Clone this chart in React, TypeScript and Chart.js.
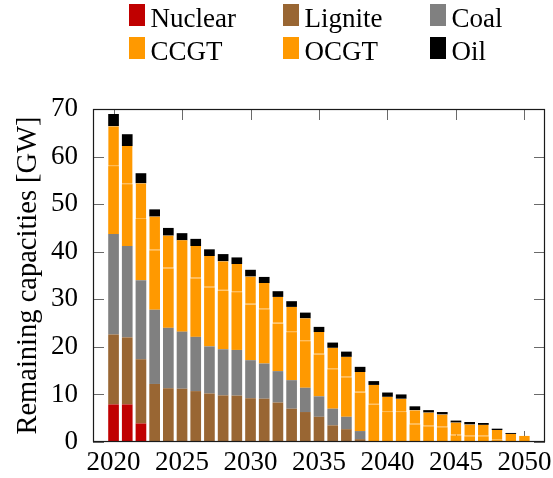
import { useEffect, useRef } from "react";
import { Chart, registerables } from "chart.js";

Chart.register(...registerables);

// ---- data (GW) ----
const years = [
  2020, 2021, 2022, 2023, 2024, 2025, 2026, 2027, 2028, 2029, 2030,
  2031, 2032, 2033, 2034, 2035, 2036, 2037, 2038, 2039, 2040,
  2041, 2042, 2043, 2044, 2045, 2046, 2047, 2048, 2049, 2050,
];
const nuclear = [7.9, 7.9, 3.9, 0, 0, 0, 0, 0, 0, 0, 0, 0, 0, 0, 0, 0, 0, 0, 0, 0, 0, 0, 0, 0, 0, 0, 0, 0, 0, 0, 0];
const lignite = [14.7, 14.1, 13.5, 12.2, 11.3, 11.2, 10.7, 10.2, 9.8, 9.75, 9.2, 9.1, 8.3, 7.0, 6.3, 5.3, 3.5, 2.7, 0.6, 0, 0, 0, 0, 0, 0, 0, 0, 0, 0, 0, 0];
const coal = [21.1, 19.2, 16.6, 15.6, 12.7, 12.0, 11.4, 9.9, 9.7, 9.6, 8.0, 7.4, 6.6, 6.0, 5.1, 4.3, 3.5, 2.6, 1.7, 0, 0, 0, 0, 0, 0, 0, 0, 0, 0, 0, 0];
const ccgt = [14.3, 13.0, 12.9, 12.5, 12.5, 19.2, 12.3, 12.4, 12.3, 12.15, 11.7, 11.4, 10.0, 10.1, 9.8, 8.8, 8.3, 8.3, 8.1, 7.85, 6.3, 6.3, 3.7, 3.3, 3.1, 1.4, 1.2, 1.2, 0.4, 0, 0];
const ocgt = [8.4, 8.0, 7.5, 7.1, 6.9, 0, 6.8, 6.6, 6.2, 5.9, 5.9, 5.5, 5.6, 5.3, 4.8, 4.7, 4.5, 4.3, 4.3, 4.15, 3.2, 2.8, 3.0, 2.9, 2.7, 2.7, 2.5, 2.4, 2.1, 1.7, 1.3];
const oil = [2.55, 2.5, 2.1, 1.5, 1.6, 1.5, 1.5, 1.4, 1.5, 1.4, 1.4, 1.3, 1.2, 1.2, 1.2, 1.1, 1.1, 1.1, 1.1, 0.8, 0.9, 0.9, 0.8, 0.5, 0.5, 0.4, 0.5, 0.4, 0.3, 0.2, 0];

const seriesNames = ["Nuclear", "Lignite", "Coal", "CCGT", "OCGT", "Oil"];
const seriesValues = [nuclear, lignite, coal, ccgt, ocgt, oil];
const seriesColors = ["#C00000", "#996633", "#808080", "#FF9900", "#FF9900", "#000000"];

const xTickValues = [2020, 2025, 2030, 2035, 2040, 2045, 2050];
const yTickValues = [0, 10, 20, 30, 40, 50, 60, 70];
const yAxisTitle = "Remaining capacities [GW]";

const FONT = "'Liberation Serif', 'Times New Roman', serif";
const FONT_SIZE = 27;

// tick marks drawn beneath the bars (as in the reference)
const ticksPlugin = {
  id: "innerTicks",
  beforeDatasetsDraw(chart: any) {
    const { ctx, chartArea } = chart;
    const { left, right, top, bottom } = chartArea;
    const x = chart.scales.x;
    const y = chart.scales.y;
    const TL = 11;
    ctx.save();
    ctx.strokeStyle = "#6a6a6a";
    ctx.lineWidth = 1;
    ctx.beginPath();
    for (const v of xTickValues) {
      const px = Math.round(x.getPixelForValue(v)) + 0.5;
      ctx.moveTo(px, bottom);
      ctx.lineTo(px, bottom - TL);
      ctx.moveTo(px, top);
      ctx.lineTo(px, top + TL);
    }
    for (const v of yTickValues) {
      const py = Math.round(y.getPixelForValue(v)) + 0.5;
      ctx.moveTo(left, py);
      ctx.lineTo(left + TL, py);
      ctx.moveTo(right, py);
      ctx.lineTo(right - TL, py);
    }
    ctx.stroke();
    ctx.restore();
  },
};

const framePlugin = {
  id: "frame",
  afterDatasetsDraw(chart: any) {
    const { ctx, chartArea } = chart;
    const { left, right, top, bottom } = chartArea;
    ctx.save();
    ctx.strokeStyle = "#1a1a1a";
    ctx.lineWidth = 1.2;
    ctx.strokeRect(left + 0.5, top + 0.5, right - left - 1, bottom - top - 1);
    ctx.restore();
  },
};

const legendPlugin = {
  id: "gridLegend",
  afterDraw(chart: any) {
    const ctx = chart.ctx;
    const cols = [129, 283, 430];
    const rows = [4, 37];
    ctx.save();
    ctx.font = `${FONT_SIZE}px ${FONT}`;
    ctx.textBaseline = "alphabetic";
    ctx.textAlign = "left";
    chart.data.datasets.forEach((ds: any, i: number) => {
      const bx = cols[i % 3];
      const by = rows[Math.floor(i / 3)];
      ctx.fillStyle = ds.backgroundColor;
      ctx.fillRect(bx, by, 16, 22);
      ctx.fillStyle = "#000";
      ctx.fillText(ds.label, bx + 21.5, by + 22.7);
    });
    ctx.restore();
  },
};

export default function App() {
  const canvasRef = useRef<HTMLCanvasElement | null>(null);

  useEffect(() => {
    if (!canvasRef.current) return;
    const datasets = seriesNames.map((name, k) => {
      const base: any = {
        label: name,
        data: years.map((yr, i) => ({ x: yr, y: seriesValues[k][i] })),
        backgroundColor: seriesColors[k],
        borderWidth: 0,
        barPercentage: 0.78,
        categoryPercentage: 1,
      };
      if (name === "OCGT") {
        base.borderWidth = { top: 0, right: 0, bottom: 1, left: 0 };
        base.borderColor = "#FFBB55";
        base.borderSkipped = false;
      }
      return base;
    });

    const chart = new Chart(canvasRef.current, {
      type: "bar",
      data: { datasets },
      plugins: [ticksPlugin, framePlugin, legendPlugin],
      options: {
        responsive: false,
        animation: false,
        layout: { padding: { top: 109, right: 8, left: 0, bottom: 0 } },
        plugins: { legend: { display: false }, tooltip: { enabled: false } },
        scales: {
          x: {
            type: "linear",
            stacked: true,
            offset: false,
            min: 2018.5,
            max: 2051.5,
            grid: { display: false, offset: false },
            border: { display: false },
            afterBuildTicks: (s: any) => {
              s.ticks = xTickValues.map((v) => ({ value: v }));
            },
            afterFit: (s: any) => {
              s.height = 36;
              s.paddingLeft = 0;
              s.paddingRight = 0;
            },
            ticks: {
              padding: -3,
              color: "#000",
              maxRotation: 0,
              autoSkip: false,
              font: { family: FONT, size: FONT_SIZE },
              callback: (v: any) => String(v),
            },
          },
          y: {
            type: "linear",
            stacked: true,
            min: 0,
            max: 70,
            grid: { display: false },
            border: { display: false },
            afterBuildTicks: (s: any) => {
              s.ticks = yTickValues.map((v) => ({ value: v }));
            },
            afterFit: (s: any) => {
              s.width = 93;
              s.paddingTop = 0;
              s.paddingBottom = 0;
            },
            ticks: {
              padding: 7,
              color: "#000",
              font: { family: FONT, size: FONT_SIZE },
              callback: (v: any) => String(v),
            },
            title: {
              display: true,
              text: yAxisTitle,
              color: "#000",
              font: { family: FONT, size: 28.5 },
              padding: { top: 11, bottom: 0 },
            },
          },
        },
      } as any,
    });
    return () => chart.destroy();
  }, []);

  return (
    <div style={{ position: "fixed", left: 0, top: 0, width: 553, height: 478, background: "#fff" }}>
      <canvas ref={canvasRef} width={553} height={478} style={{ display: "block" }} />
    </div>
  );
}
